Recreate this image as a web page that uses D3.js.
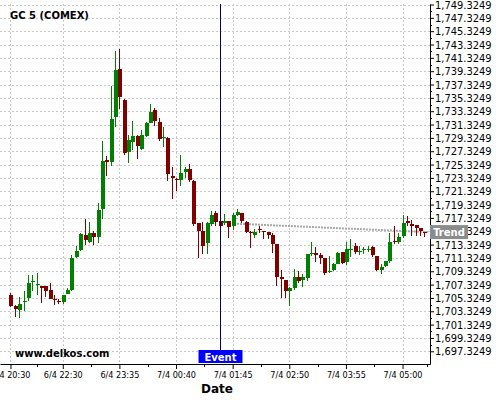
<!DOCTYPE html>
<html>
<head>
<meta charset="utf-8">
<script src="https://cdn.jsdelivr.net/npm/d3@7"></script>
<style>
    body { margin: 0; background: #fff; }
    svg text { font-family: "DejaVu Sans", sans-serif; }
    .axis text { font-family: "DejaVu Sans Condensed", "DejaVu Sans", sans-serif; font-stretch: condensed; fill: #000; }
    .axis path, .axis line { stroke: #000; }
</style>
</head>
<body>
<svg id="chart" width="500" height="400"></svg>
<script>
// GC 5 (COMEX), 5 minute bars
var opens = [1705.82, 1704.10, 1703.45, 1704.77, 1705.32, 1707.77, 1707.27, 1707.07, 1707.07, 1706.47,
    1705.22, 1704.82, 1704.72, 1705.87, 1706.52, 1711.47, 1712.52, 1714.72, 1713.72, 1715.07,
    1714.47, 1718.62, 1725.97, 1725.72, 1732.47, 1739.62, 1734.97, 1727.22, 1728.72, 1729.57,
    1727.67, 1729.67, 1731.57, 1733.57, 1731.77, 1729.37, 1729.37, 1723.67, 1723.22, 1722.97,
    1724.17, 1724.72, 1722.92, 1716.52, 1715.37, 1713.52, 1716.47, 1718.02, 1716.87, 1716.50,
    1716.87, 1716.12, 1717.72, 1718.02, 1716.77, 1715.25, 1714.77, 1715.72, 1715.35, 1715.17,
    1714.72, 1713.37, 1708.52, 1708.02, 1706.37, 1706.77, 1708.52, 1708.02, 1708.27, 1712.00,
    1712.02, 1711.72, 1711.27, 1709.32, 1709.52, 1710.47, 1712.22, 1710.72, 1712.67, 1713.12,
    1712.30, 1712.57, 1712.67, 1713.02, 1711.62, 1709.47, 1710.12, 1710.87, 1713.92, 1713.72,
    1714.62, 1716.82, 1716.37, 1716.22, 1715.77, 1715.15];
var highs = [1706.02, 1704.20, 1705.45, 1706.32, 1708.72, 1708.72, 1709.12, 1707.12, 1707.12, 1707.62,
    1705.82, 1705.12, 1705.82, 1706.87, 1711.82, 1713.12, 1715.00, 1717.22, 1716.72, 1715.32,
    1719.62, 1728.82, 1726.62, 1737.12, 1742.32, 1742.72, 1735.12, 1729.82, 1731.82, 1729.72,
    1730.57, 1731.70, 1734.42, 1733.82, 1732.30, 1730.92, 1729.42, 1724.92, 1723.30, 1726.77,
    1725.02, 1725.47, 1722.95, 1716.60, 1716.67, 1716.67, 1718.32, 1718.42, 1717.42, 1717.95,
    1716.90, 1718.12, 1718.62, 1718.12, 1716.80, 1715.37, 1715.72, 1716.12, 1715.40, 1715.20,
    1715.12, 1713.40, 1709.47, 1708.05, 1706.90, 1709.72, 1709.37, 1708.87, 1711.90, 1713.72,
    1713.02, 1712.12, 1711.30, 1711.62, 1710.62, 1712.27, 1712.25, 1713.72, 1714.12, 1713.62,
    1713.12, 1713.02, 1713.12, 1713.12, 1711.65, 1710.47, 1710.90, 1715.12, 1716.12, 1715.12,
    1717.72, 1717.62, 1716.97, 1716.25, 1715.80, 1715.20];
var lows = [1703.90, 1702.40, 1702.35, 1703.37, 1704.92, 1706.32, 1705.72, 1704.62, 1705.52, 1705.12,
    1704.32, 1704.37, 1704.37, 1705.87, 1706.42, 1711.30, 1712.30, 1713.22, 1713.62, 1713.22,
    1713.62, 1717.22, 1723.57, 1725.12, 1730.97, 1733.62, 1726.72, 1725.62, 1727.57, 1726.22,
    1727.47, 1729.50, 1731.50, 1731.17, 1728.92, 1727.92, 1722.92, 1720.17, 1721.42, 1722.17,
    1723.32, 1722.77, 1716.17, 1711.32, 1711.92, 1711.87, 1716.17, 1716.17, 1715.67, 1716.30,
    1714.37, 1715.47, 1717.62, 1716.52, 1715.12, 1712.87, 1714.27, 1715.12, 1714.12, 1714.12,
    1712.12, 1707.12, 1705.37, 1705.37, 1704.12, 1706.47, 1707.62, 1707.02, 1707.87, 1711.62,
    1710.77, 1710.47, 1708.72, 1709.02, 1709.37, 1710.37, 1710.37, 1710.22, 1711.47, 1711.87,
    1711.72, 1711.87, 1712.22, 1711.52, 1709.37, 1708.87, 1709.97, 1710.62, 1713.47, 1713.37,
    1714.37, 1716.12, 1714.62, 1714.62, 1714.62, 1714.52];
var closes = [1704.12, 1703.60, 1704.45, 1704.87, 1707.52, 1707.87, 1707.37, 1706.77, 1706.37, 1705.22,
    1705.07, 1704.72, 1705.72, 1706.47, 1711.32, 1712.32, 1714.87, 1713.97, 1715.12, 1714.47,
    1718.47, 1725.82, 1725.72, 1732.12, 1739.47, 1735.47, 1727.07, 1728.97, 1729.57, 1728.07,
    1729.72, 1731.62, 1733.27, 1731.92, 1729.17, 1729.47, 1723.87, 1723.27, 1723.10, 1724.07,
    1724.72, 1722.97, 1716.37, 1715.32, 1713.17, 1716.57, 1717.82, 1716.77, 1716.12, 1716.90,
    1716.02, 1717.77, 1718.27, 1716.87, 1715.22, 1715.17, 1715.27, 1715.47, 1715.30, 1714.72,
    1713.37, 1708.47, 1708.12, 1706.37, 1706.87, 1708.52, 1707.87, 1708.52, 1711.87, 1712.12,
    1711.72, 1711.27, 1709.02, 1709.40, 1710.47, 1712.12, 1710.52, 1712.62, 1712.72, 1712.22,
    1712.37, 1712.62, 1712.72, 1711.72, 1709.47, 1709.97, 1710.87, 1713.72, 1713.87, 1714.47,
    1716.52, 1716.52, 1716.12, 1715.77, 1715.37, 1715.12];

var timeTickBars = [0, 12, 25, 38, 51, 64, 77, 90];
var timeTickLabels = ["6/4 20:30", "6/4 22:30", "6/4 23:35", "7/4 00:40", "7/4 01:45", "7/4 02:50", "7/4 03:55", "7/4 05:00"];
var timeMinorBars = [6, 18.5, 31.5, 44.5, 57.5, 70.5, 83.5, 95.5];
var priceTicks = [1697.3249, 1699.3249, 1701.3249, 1703.3249, 1705.3249, 1707.3249, 1709.3249, 1711.3249, 1713.3249,
    1715.3249, 1717.3249, 1719.3249, 1721.3249, 1723.3249, 1725.3249, 1727.3249, 1729.3249, 1731.3249, 1733.3249,
    1735.3249, 1737.3249, 1739.3249, 1741.3249, 1743.3249, 1745.3249, 1747.3249, 1749.3249];

var eventBar = 48;
var trendBars = [52, 95.8];
var trendPrices = [1716.45, 1715.2];

var width = 500,
    height = 400,
    plotRight = 430,
    plotTop = 4,
    plotBottom = 364;

var svg = d3.select("#chart");

var xScale = d3.scaleLinear()
    .domain([-2.41, 96.3])
    .range([0, plotRight]);
var yScale = d3.scaleLinear()
    .domain([1695.42, 1749.40])
    .range([plotBottom, plotTop]);

// grid
var grid = svg.append("g").attr("class", "grid")
    .attr("stroke", "#c8c8c8")
    .attr("stroke-dasharray", "2,2");
grid.selectAll(".hgrid").data(priceTicks).enter().append("line")
    .attr("class", "hgrid")
    .attr("x1", 0).attr("x2", plotRight)
    .attr("y1", function(d) { return Math.round(yScale(d)) + 0.5; })
    .attr("y2", function(d) { return Math.round(yScale(d)) + 0.5; });
grid.selectAll(".vgrid").data(timeTickBars).enter().append("line")
    .attr("class", "vgrid")
    .attr("y1", plotTop).attr("y2", plotBottom)
    .attr("x1", function(d) { return Math.round(xScale(d)) + 0.5; })
    .attr("x2", function(d) { return Math.round(xScale(d)) + 0.5; });

// trend line
svg.append("line")
    .attr("x1", xScale(trendBars[0])).attr("y1", yScale(trendPrices[0]))
    .attr("x2", xScale(trendBars[1])).attr("y2", yScale(trendPrices[1]))
    .attr("stroke", "#a8a8a8")
    .attr("stroke-width", 2)
    .attr("stroke-dasharray", "2,1");

// candles
var bars = d3.range(opens.length).map(function(i) {
    return {i: i, o: opens[i], h: highs[i], l: lows[i], c: closes[i]};
});
var candle = svg.append("g").attr("class", "candles")
    .attr("shape-rendering", "crispEdges")
    .selectAll("g").data(bars).enter().append("g")
    .attr("fill", function(d) { return d.c >= d.o ? "#008000" : "#800000"; })
    .attr("stroke", function(d) { return d.c >= d.o ? "#008000" : "#800000"; });
candle.append("line")
    .attr("x1", function(d) { return Math.round(xScale(d.i)) + 0.5; })
    .attr("x2", function(d) { return Math.round(xScale(d.i)) + 0.5; })
    .attr("y1", function(d) { return yScale(d.h); })
    .attr("y2", function(d) { return yScale(d.l); });
candle.append("rect")
    .attr("stroke", "none")
    .attr("x", function(d) { return Math.round(xScale(d.i)) - 1.5; })
    .attr("width", 4)
    .attr("y", function(d) { return yScale(Math.max(d.o, d.c)); })
    .attr("height", function(d) { return Math.max(1, Math.abs(yScale(d.o) - yScale(d.c))); });

// axes
var xAxis = d3.axisBottom(xScale)
    .tickValues(timeTickBars)
    .tickFormat(function(d, i) { return timeTickLabels[i]; })
    .tickSize(5)
    .tickSizeOuter(0);
var gx = svg.append("g")
    .attr("class", "x axis")
    .attr("transform", "translate(0," + plotBottom + ")")
    .call(xAxis);
gx.selectAll("text").style("font-size", "9px");
gx.selectAll(".minor").data(timeMinorBars).enter().append("line")
    .attr("class", "minor")
    .attr("x1", function(d) { return Math.round(xScale(d)) + 0.5; })
    .attr("x2", function(d) { return Math.round(xScale(d)) + 0.5; })
    .attr("y1", 0).attr("y2", 3);

var yAxis = d3.axisRight(yScale)
    .tickValues(priceTicks)
    .tickFormat(d3.format(",.4f"))
    .tickSize(4)
    .tickPadding(1)
    .tickSizeOuter(0);
var gy = svg.append("g")
    .attr("class", "y axis")
    .attr("transform", "translate(" + plotRight + ",0)")
    .call(yAxis);
gy.selectAll("text").style("font-size", "11px");
gy.selectAll(".minor").data(priceTicks.slice(0, -1)).enter().append("line")
    .attr("class", "minor")
    .attr("y1", function(d) { return Math.round(yScale(d + 1)) + 0.5; })
    .attr("y2", function(d) { return Math.round(yScale(d + 1)) + 0.5; })
    .attr("x1", 0).attr("x2", 2);

svg.selectAll(".axis .domain").attr("stroke-width", 1);

// event marker
var ex = Math.round(xScale(eventBar)) + 0.5;
svg.append("line")
    .attr("x1", ex).attr("x2", ex)
    .attr("y1", plotTop).attr("y2", 350)
    .attr("stroke", "#00005a");
svg.append("rect")
    .attr("x", ex - 22).attr("y", 350)
    .attr("width", 44).attr("height", 13)
    .attr("fill", "#0000ff");
svg.append("text")
    .attr("x", ex).attr("y", 360.5)
    .attr("text-anchor", "middle")
    .attr("fill", "#fff")
    .style("font-size", "10px")
    .style("font-weight", "bold")
    .text("Event");

// trend label
var ty = yScale(trendPrices[1]);
svg.append("rect")
    .attr("x", plotRight).attr("y", ty - 7)
    .attr("width", 38).attr("height", 14)
    .attr("fill", "#8c8c8c");
svg.append("text")
    .attr("x", plotRight + 19).attr("y", ty + 3.5)
    .attr("text-anchor", "middle")
    .attr("fill", "#fff")
    .style("font-size", "10px")
    .style("font-weight", "bold")
    .text("Trend");

// titles
svg.append("text")
    .attr("x", 10).attr("y", 19)
    .style("font-size", "10px")
    .style("font-weight", "bold")
    .text("GC 5 (COMEX)");
svg.append("text")
    .attr("x", 15).attr("y", 357)
    .style("font-size", "10px")
    .style("font-weight", "bold")
    .text("www.delkos.com");
svg.append("text")
    .attr("x", 217).attr("y", 393)
    .attr("text-anchor", "middle")
    .style("font-size", "12px")
    .style("font-weight", "bold")
    .text("Date");
</script>
</body>
</html>
